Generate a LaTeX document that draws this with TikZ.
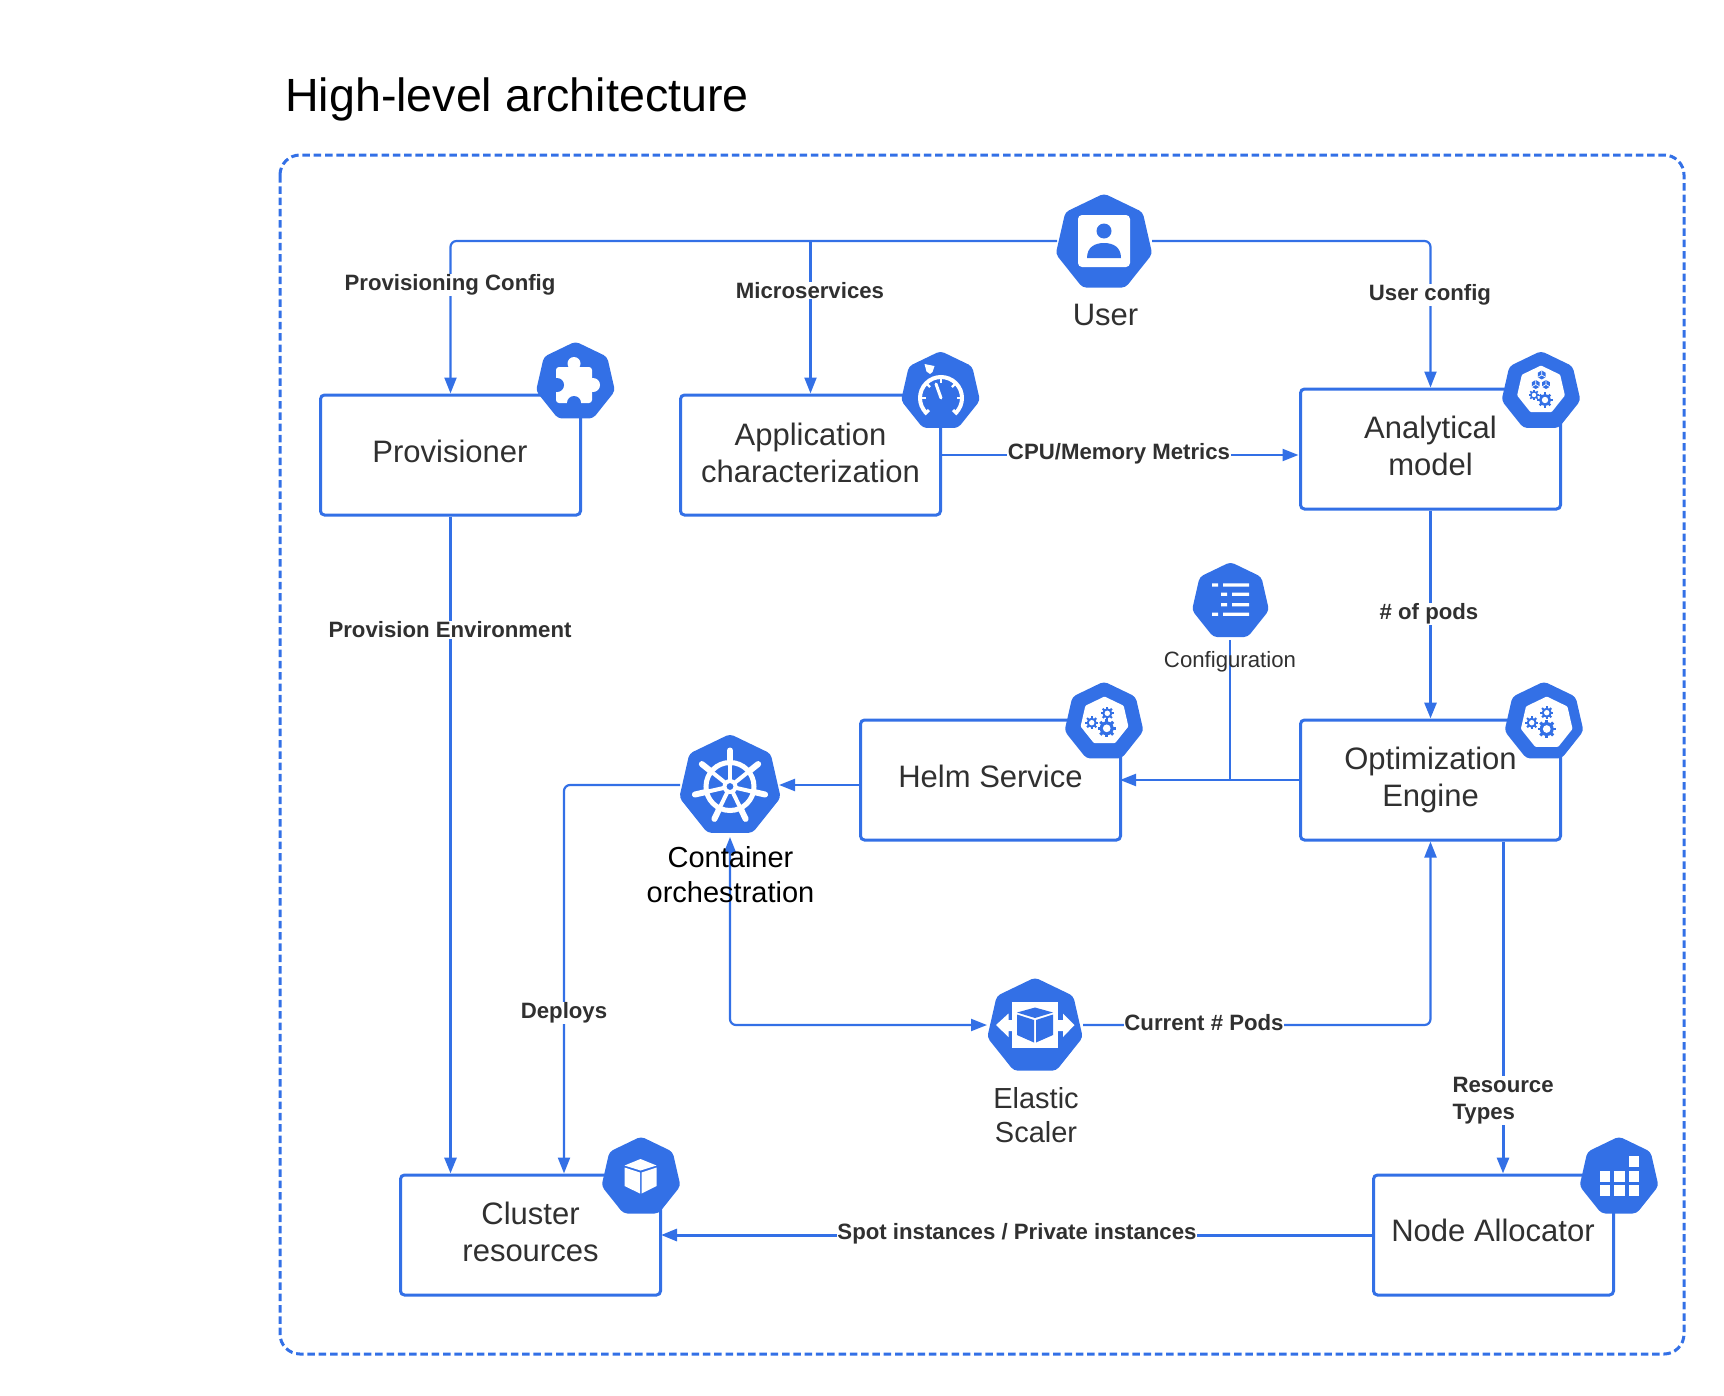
\documentclass[tikz,border=0pt]{standalone}
\usepackage{fontspec}
\setmainfont{Liberation Sans}
\usetikzlibrary{shapes.geometric,arrows.meta}
\definecolor{blu}{HTML}{3370E6}
\definecolor{ink}{HTML}{303030}
\tikzset{
  hept/.style={regular polygon,regular polygon sides=7,fill=blu,inner sep=0pt,outer sep=0pt,rounded corners=4pt,minimum size=#1},
  innerhept/.style={regular polygon,regular polygon sides=7,fill=white,inner sep=0pt,outer sep=0pt,rounded corners=1pt,minimum size=#1},
  box/.style={draw=blu,line width=3pt,rounded corners=4pt,fill=white,inner sep=0pt,anchor=north west,minimum height=120pt},
  btext/.style={text=ink,font=\fontsize{31}{37}\selectfont,align=center},
  lab/.style={text=ink,font=\bfseries\fontsize{22.2}{27}\selectfont,fill=white,inner sep=0.8pt,align=left},
  conn/.style={draw=blu,line width=2.2pt,rounded corners=6pt,-{Triangle[length=16pt,width=12pt]}},
  thick conn/.style={conn,line width=3pt},
  plain conn/.style={draw=blu,line width=2.2pt},
}
% gear: centre, radius
\newcommand{\gearicon}[3]{%
  \begin{scope}[shift={(#1,#2)}]
    \foreach \a in {0,45,...,315}{\draw[blu,line width=#3*0.42pt] (\a:#3*0.8) -- (\a:#3*1.3);}
    \fill[blu] (0,0) circle[radius=#3];
    \fill[white] (0,0) circle[radius=#3*0.55];
  \end{scope}}
\newcommand{\smallcube}[3]{%
  \begin{scope}[shift={(#1,#2)}]
    \fill[blu] (90:#3) -- (30:#3) -- (-30:#3) -- (-90:#3) -- (-150:#3) -- (150:#3) -- cycle;
    \draw[white,line width=0.7pt] (150:#3) -- (0,0) -- (30:#3) (0,0) -- (-90:#3);
  \end{scope}}
\begin{document}
\begin{tikzpicture}[x=1pt,y=-1pt]
\useasboundingbox (0,0) rectangle (1724,1395);

\node[anchor=west,text=black,font=\fontsize{46.6}{54}\selectfont,inner sep=0pt] (title) at (285,99.5) {High-level architecture};
\draw[blu,line width=3pt,dash pattern=on 7.5pt off 3.8pt,rounded corners=20pt] (280,155) rectangle (1684,1354);

% boxes
\node[box,minimum width=260pt] (prov) at (319,393.5) {};
\node[box,minimum width=260pt] (app) at (679,393.5) {};
\node[box,minimum width=260pt] (ana) at (1299,387.5) {};
\node[box,minimum width=260pt] (helm) at (859,718.5) {};
\node[box,minimum width=260pt] (opt) at (1299,718.5) {};
\node[box,minimum width=260pt] (clu) at (399,1173.5) {};
\node[box,minimum width=240pt] (nod) at (1372,1173.5) {};

% heptagons
\node[hept=99pt] (user) at (1104,243) {};
\node[hept=81pt] (hprov) at (575.5,382) {};
\node[hept=81pt] (happ) at (940.5,391.5) {};
\node[hept=81pt] (hana) at (1541,391.5) {};
\node[hept=79pt] (hcfg) at (1230.5,601.5) {};
\node[hept=81pt] (hhelm) at (1104,722) {};
\node[hept=81pt] (hopt) at (1544,722) {};
\node[hept=104pt] (k8s) at (730,786) {};
\node[hept=98pt] (hela) at (1035,1026.5) {};
\node[hept=81pt] (hclu) at (641,1177) {};
\node[hept=81pt] (hnod) at (1619,1177) {};

% named connector ends
\coordinate (uL) at (1057,241);
\coordinate (uR) at (1152,241);
\coordinate (appE) at (940,455);
\coordinate (anaW) at (1298.5,455);
\coordinate (optW) at (1299,780);
\coordinate (helmE) at (1120,780);
\coordinate (cfgJ) at (1230,780);
\coordinate (cfgT) at (1230,640);
\coordinate (helmW) at (859,785);
\coordinate (k8sE) at (779,785);
\coordinate (k8sW) at (680,785);
\coordinate (cluDep) at (564,1173.5);
\coordinate (k8sS) at (730,837);
\coordinate (elaW) at (987,1025);
\coordinate (elaE) at (1083,1025);
\coordinate (nodT) at (1503,1173.5);
\coordinate (nodW) at (1372,1235);
\coordinate (cluE) at (661,1235);

% connectors
\draw[conn] (uL) -| (prov.north);
\draw[conn] (app.north |- uL) -- (app.north);
\draw[conn] (uR) -| (ana.north);
\draw[conn] (appE) -- (anaW);
\draw[thick conn] (prov.south) -- (prov.south |- clu.north);
\draw[thick conn] (ana.south) -- (opt.north);
\draw[conn] (optW) -- (helmE);
\draw[plain conn] (cfgJ) -- (cfgT);
\draw[conn] (helmW) -- (k8sE);
\draw[conn] (k8sW) -| (cluDep);
\draw[conn,{Triangle[length=16pt,width=12pt]}-{Triangle[length=16pt,width=12pt]}] (k8sS) |- (elaW);
\draw[conn] (elaE) -| (opt.south);
\draw[thick conn] (opt.south -| nodT) -- (nodT);
\draw[thick conn] (nodW) -- (cluE);

% box texts
\node[btext] (tprov) at (450,451.5) {Provisioner};
\node[btext] (tapp) at (810.5,452.5) {Application\\characterization};
\node[btext] (tana) at (1430.5,446) {Analytical\\model};
\node[btext] (thelm) at (990.5,776) {Helm Service};
\node[btext] (topt) at (1430.5,780) {Optimization\\Engine};
\node[btext] (tclu) at (530.5,1232) {Cluster\\resources};
\node[btext] (tnod) at (1493,1230) {Node Allocator};
\node[btext] (tuser) at (1105.5,315) {User};
\node[btext,font=\fontsize{29}{34.5}\selectfont] (tela) at (1036,1115) {Elastic\\Scaler};
\node[btext,text=black,font=\fontsize{29}{35}\selectfont] (tk8s) at (730.5,875) {Container\\orchestration};
\node[text=ink,font=\fontsize{22.2}{26}\selectfont,inner sep=0pt] (tcfg) at (1230,662) {Configuration};

% labels
\node[lab] (l1) at (450,284.7) {Provisioning Config};
\node[lab] (l2) at (810,290.5) {Microservices};
\node[lab] (l3) at (1430,294.7) {User config};
\node[lab] (l4) at (1119,454) {CPU/Memory Metrics};
\node[lab] (l5) at (450,630) {Provision Environment};
\node[lab] (l6) at (1429,613.7) {\# of pods};
\node[lab] (l7) at (564,1012.7) {Deploys};
\node[lab] (l8) at (1204,1022.5) {Current \# Pods};
\node[lab,anchor=west] (l9) at (1451.5,1100.5) {Resource\\Types};
\node[lab] (l10) at (1017,1233.5) {Spot instances / Private instances};

% icons: user
\fill[white,rounded corners=4pt] (1078,215) rectangle (1130,267);
\fill[blu] (1104,231) circle[radius=7.5];
\fill[blu] (1087,258) .. controls (1087,247) and (1095,243) .. (1104,243) .. controls (1113,243) and (1121,247) .. (1121,258) -- cycle;

% icon: puzzle
\fill[white,rounded corners=3pt] (556,367) rectangle (592,403);
\fill[white] (574,363.5) circle[radius=6.5];
\fill[white] (593,385) circle[radius=7];
\fill[blu] (557,385) circle[radius=7];
\fill[blu] (574,403) circle[radius=7];

% icon: gauge
\begin{scope}[shift={(941,398)},y=1pt]
  \draw[white,line width=4pt] (225:21) arc[start angle=225,end angle=-45,radius=21];
  \draw[white,line width=3pt] (225:23) -- (225:17) (-45:23) -- (-45:17);
  \foreach \a in {-90,-45,0,45,90}{\draw[white,line width=2.4pt] (90+\a:21) -- (90+\a:15.5);}
  \draw[white,line width=3pt,line cap=round] (0,0) -- (-5,14);
\end{scope}
\fill[white] (924.5,364) -- (934.5,366) -- (932.5,372) -- (930,374) -- (926.5,371.5) -- cycle;

% icon: analytical model
\node[innerhept=49pt] (ia) at (1541,390) {};
\smallcube{1541.7}{375}{4.5}
\smallcube{1535.7}{384.5}{4.5}
\smallcube{1546}{384.5}{4.5}
\gearicon{1534}{395}{4}
\gearicon{1545}{400}{5.8}

% icon: configuration
\fill[white] (1212,583.4) rectangle (1218,586.6) (1223,583.4) rectangle (1249,586.6);
\fill[white] (1221,592.7) rectangle (1227,595.9) (1232,592.7) rectangle (1249,595.9);
\fill[white] (1221,603.1) rectangle (1227,606.3) (1232,603.1) rectangle (1249,606.3);
\fill[white] (1212,612.7) rectangle (1218,615.9) (1223,612.7) rectangle (1249,615.9);

% icon: helm
\node[innerhept=49pt] (ih) at (1104.5,721) {};
\gearicon{1091.7}{722.7}{5}
\gearicon{1107.3}{713.3}{5}
\gearicon{1106.7}{728.3}{7}

% icon: optimization
\node[innerhept=53pt] (io) at (1546.7,723) {};
\gearicon{1531.7}{722.7}{5}
\gearicon{1546.7}{712.7}{5}
\gearicon{1546.7}{729}{7}

% icon: wheel
\begin{scope}[shift={(730,786.5)},y=1pt]
  \draw[white,line width=5pt] (0,0) circle[radius=24];
  \foreach \a in {90,141.43,192.86,244.29,295.71,347.14,38.57}{
    \draw[white,line width=4pt] (0,0) -- (\a:25);
    \draw[white,line width=6pt,line cap=round] (\a:24) -- (\a:36);}
  \fill[white] (0,0) circle[radius=7.5];
  \fill[blu] (0,0) circle[radius=3.4];
\end{scope}

% icon: elastic
\fill[white] (1012,1002) rectangle (1058,1048);
\fill[white] (996,1025) -- (1008.5,1013.5) -- (1008.5,1020) -- (1012,1020) -- (1012,1031) -- (1008.5,1031) -- (1008.5,1037) -- cycle;
\fill[white] (1074.5,1025) -- (1063,1013.5) -- (1063,1020) -- (1058,1020) -- (1058,1031) -- (1063,1031) -- (1063,1037) -- cycle;
\fill[blu] (1035,1007.5) -- (1053,1012.5) -- (1035,1018) -- (1017,1012.5) -- cycle;
\fill[blu] (1017,1014.5) -- (1034,1020) -- (1034,1042.5) -- (1017,1035) -- cycle;
\fill[blu] (1036,1020) -- (1053,1014.5) -- (1053,1035) -- (1036,1042.5) -- cycle;

% icon: cube
\fill[white] (640.5,1159) -- (656.5,1165.5) -- (640.5,1170.5) -- (624.5,1165.5) -- cycle;
\fill[white] (624.5,1167.5) -- (640,1172.5) -- (640,1193.5) -- (624.5,1186) -- cycle;
\fill[white] (641.5,1172.5) -- (656.5,1167.5) -- (656.5,1186) -- (641.5,1193.5) -- cycle;

% icon: node grid
\foreach \xx in {1599.5,1614,1628.5}{\foreach \yy in {1171,1185}{\fill[white] (\xx,\yy) rectangle +(10.5,10.5);}}
\fill[white] (1628.5,1156) rectangle +(10.5,10.5);
\end{tikzpicture}
\end{document}
